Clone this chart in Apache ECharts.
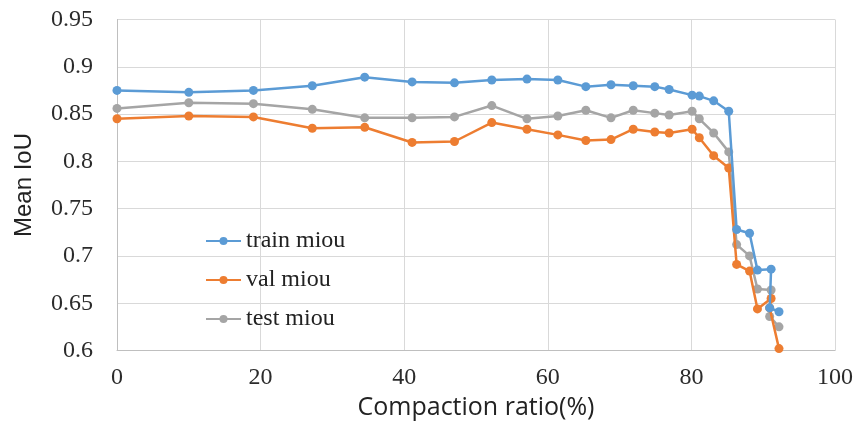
<!DOCTYPE html>
<html>
<head>
<meta charset="utf-8">
<script src="https://cdn.jsdelivr.net/npm/echarts@6/dist/echarts.min.js"></script>
<style>html,body{margin:0;padding:0;background:#fff}#c{width:857px;height:425px}</style>
</head>
<body>
<div id="c"></div>
<script>
var compaction = [0, 10, 19, 27.2, 34.5, 41.1, 47, 52.2, 57.1, 61.4, 65.3, 68.8, 71.9, 74.9, 76.9, 80.1, 81.1, 83.1, 85.2, 86.3, 88.1, 89.2, 91.1, 90.9, 92.2];
var trainMiou = [0.875, 0.873, 0.875, 0.880, 0.889, 0.884, 0.883, 0.886, 0.887, 0.886, 0.879, 0.881, 0.880, 0.879, 0.876, 0.870, 0.869, 0.864, 0.853, 0.728, 0.724, 0.685, 0.686, 0.645, 0.641];
var valMiou = [0.845, 0.848, 0.847, 0.835, 0.836, 0.820, 0.821, 0.841, 0.834, 0.828, 0.822, 0.823, 0.834, 0.831, 0.830, 0.834, 0.825, 0.806, 0.793, 0.691, 0.684, 0.644, 0.655, 0.645, 0.602];
var testMiou = [0.856, 0.862, 0.861, 0.855, 0.846, 0.846, 0.847, 0.859, 0.845, 0.848, 0.854, 0.846, 0.854, 0.851, 0.849, 0.853, 0.845, 0.830, 0.810, 0.712, 0.700, 0.665, 0.664, 0.636, 0.625];
var seriesNames = ['train miou', 'val miou', 'test miou'];
var colors = ['#5B9BD5', '#ED7D31', '#A5A5A5'];

function pairs(ys) { return compaction.map(function (x, i) { return [x, ys[i]]; }); }
var allY = [trainMiou, valMiou, testMiou];

var chart = echarts.init(document.getElementById('c'), null, { renderer: 'canvas' });
chart.setOption({
  animation: false,
  color: colors,
  grid: { left: 117, right: 22, top: 19.5, bottom: 74.3, containLabel: false },
  legend: {
    orient: 'vertical', left: 200, top: 224,
    itemWidth: 35, itemHeight: 10, itemGap: 15,
    textStyle: { fontFamily: 'Liberation Serif', fontSize: 24, color: '#222' },
    data: seriesNames
  },
  xAxis: {
    type: 'value', min: 0, max: 100, interval: 20,
    name: 'Compaction ratio(%)', nameLocation: 'middle', nameGap: 57,
    nameTextStyle: { fontFamily: 'Open Sans', fontSize: 25, color: '#222', verticalAlign: 'middle' },
    axisLine: { show: true, lineStyle: { color: '#bfbfbf', width: 1 } },
    axisTick: { show: false },
    axisLabel: { margin: 15, fontFamily: 'Liberation Serif', fontSize: 24, color: '#2b2b2b' },
    splitLine: { show: true, lineStyle: { color: '#d9d9d9', width: 1 } }
  },
  yAxis: {
    type: 'value', min: 0.6, max: 0.95, interval: 0.05,
    name: 'Mean IoU', nameLocation: 'middle', nameGap: 93, nameRotate: 90,
    nameTextStyle: { fontFamily: 'Liberation Sans', fontSize: 24, color: '#222', verticalAlign: 'middle' },
    axisLine: { show: true, lineStyle: { color: '#bfbfbf', width: 1 } },
    axisTick: { show: false },
    axisLabel: { margin: 24, fontFamily: 'Liberation Serif', fontSize: 24, color: '#2b2b2b' },
    splitLine: { show: true, lineStyle: { color: '#d9d9d9', width: 1 } }
  },
  series: seriesNames.map(function (n, i) {
    return {
      name: n, type: 'line', data: pairs(allY[i]),
      symbol: 'circle', symbolSize: 9,
      lineStyle: { width: 2.5, color: colors[i] },
      itemStyle: { color: colors[i] },
      z: 3 - i
    };
  })
});
</script>
</body>
</html>
